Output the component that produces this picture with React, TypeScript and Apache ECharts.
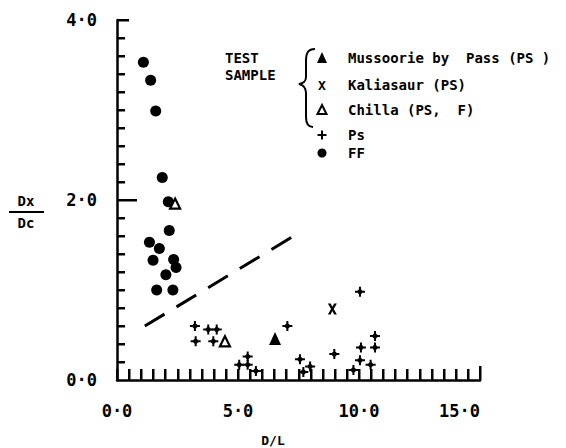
import React, { useEffect, useRef } from "react";
import * as echarts from "echarts";

// ---- data ----
const xTickLabels = ["0·0", "5·0", "10·0", "15·0"];
const yTickLabels = ["0·0", "2·0", "4·0"];

// FF (filled circles)
const ffX = [1.09, 1.39, 1.60, 1.87, 2.12, 2.16, 1.34, 1.75, 1.49, 2.34, 2.44, 2.02, 1.64, 2.31];
const ffY = [3.53, 3.33, 2.99, 2.25, 1.98, 1.66, 1.53, 1.46, 1.33, 1.34, 1.25, 1.17, 1.00, 1.00];

// Ps (plus markers)
const psX = [3.22, 3.25, 3.77, 4.12, 3.98, 7.04, 8.98, 10.08, 10.66, 10.66, 7.56, 7.98, 7.70, 5.40, 5.40, 5.05, 5.74, 10.04, 9.77, 10.48, 10.04];
const psY = [0.60, 0.43, 0.56, 0.56, 0.43, 0.60, 0.29, 0.36, 0.49, 0.36, 0.23, 0.15, 0.09, 0.26, 0.17, 0.17, 0.10, 0.22, 0.11, 0.17, 0.98];

// Test samples
const mussoorieX = [6.53];
const mussoorieY = [0.46];
const kaliasaurX = [8.90];
const kaliasaurY = [0.79];
const chillaX = [2.40, 4.46];
const chillaY = [1.96, 0.43];

// dashed boundary line
const dashX = [1.15, 7.3];
const dashY = [0.6, 1.6];

// axis ranges and tick steps (minor ticks every 0.5 on x, every 0.2 on y)
const X_MIN = 0, X_MAX = 15, X_STEP = 0.5;
const Y_MIN = 0, Y_MAX = 4, Y_STEP = 0.2;

const zip = (xs: number[], ys: number[]) => xs.map((x, i) => [x, ys[i]]);

const MONO = '"DejaVu Sans Mono"';
const PLUS_PATH =
  "path://M4,0 L6,0 L6,2.5 L7.5,4 L10,4 L10,6 L7.5,6 L6,7.5 L6,10 L4,10 L4,7.5 L2.5,6 L0,6 L0,4 L2.5,4 L4,2.5 Z";
const X_PATH =
  "path://M0,0 L3,0 L5,3.6 L7,0 L10,0 L6.5,6 L10,12 L7,12 L5,8.4 L3,12 L0,12 L3.5,6 Z";

const BRACE_D =
  "M17,2 C10,2 8,6 8,14 L8,30 C8,35 5,36 1,37 C5,38 8,40 8,46 L8,70 C8,76 10,80 15,80";

const GRID = { left: 117, right: 86, top: 20, bottom: 68 };
const W = 566, H = 448;

let braceRegistered = false;

export default function App() {
  const ref = useRef<HTMLDivElement>(null);

  useEffect(() => {
    if (!ref.current) return;
    if (!braceRegistered) {
      echarts.graphic.registerShape("brace", echarts.graphic.extendPath(BRACE_D, {}));
      braceRegistered = true;
    }
    const chart = echarts.init(ref.current, null, { renderer: "svg" });

    const legendFont = `bold 14px ${MONO}`;
    const legendRows = [
      { y: 58, text: "Mussoorie by  Pass (PS )" },
      { y: 85, text: "Kaliasaur (PS)" },
      { y: 110, text: "Chilla (PS,  F)" },
      { y: 135, text: "Ps" },
      { y: 153, text: "FF" },
    ];
    const mx = 322;

    const option: any = {
      animation: false,
      grid: { ...GRID, containLabel: false },
      xAxis: {
        type: "value",
        min: X_MIN,
        max: X_MAX,
        interval: 5,
        axisLine: { show: true, onZero: false, lineStyle: { color: "#000", width: 2.5 } },
        axisTick: { show: false },
        axisLabel: {
          formatter: (v: number) => xTickLabels[Math.round(v / 5)],
          margin: 22,
          color: "#000",
          fontFamily: MONO,
          fontWeight: "bold",
          fontSize: 17,
          alignMaxLabel: "right",
        },
        splitLine: { show: false },
      },
      yAxis: {
        type: "value",
        min: Y_MIN,
        max: Y_MAX,
        interval: 2,
        axisLine: { show: true, onZero: false, lineStyle: { color: "#000", width: 2.5 } },
        axisTick: { show: false },
        axisLabel: {
          formatter: (v: number) => yTickLabels[Math.round(v / 2)],
          margin: 20,
          color: "#000",
          fontFamily: MONO,
          fontWeight: "bold",
          fontSize: 17,
        },
        splitLine: { show: false },
      },
      series: [
        {
          type: "line",
          data: zip(dashX, dashY),
          symbol: "none",
          lineStyle: { color: "#000", width: 3, type: [23, 14], cap: "butt" },
          z: 1,
        },
        {
          name: "FF",
          type: "scatter",
          data: zip(ffX, ffY),
          symbol: "circle",
          symbolSize: 11,
          itemStyle: { color: "#000", opacity: 1 },
        },
        {
          name: "Ps",
          type: "scatter",
          data: zip(psX, psY),
          symbol: PLUS_PATH,
          symbolSize: 10,
          itemStyle: { color: "#000", opacity: 1 },
        },
        {
          name: "Mussoorie by Pass (PS)",
          type: "scatter",
          data: zip(mussoorieX, mussoorieY),
          symbol: "triangle",
          symbolSize: [12, 13],
          itemStyle: { color: "#000", opacity: 1 },
        },
        {
          name: "Kaliasaur (PS)",
          type: "scatter",
          data: zip(kaliasaurX, kaliasaurY),
          symbol: X_PATH,
          symbolSize: [9, 11],
          itemStyle: { color: "#000", opacity: 1 },
        },
        {
          name: "Chilla (PS, F)",
          type: "scatter",
          data: zip(chillaX, chillaY),
          symbol: "triangle",
          symbolSize: [10, 10],
          itemStyle: { color: "#fff", borderColor: "#000", borderWidth: 2.2, opacity: 1 },
        },
      ],
    };

    chart.setOption(option);

    // pixel position of a data point, via the chart's scales (fallback: grid geometry)
    const toPx = (x: number, y: number): number[] => {
      let p: any = null;
      try {
        p = chart.convertToPixel({ gridIndex: 0 }, [x, y]);
      } catch (e) {
        p = null;
      }
      if (!p || !isFinite(p[0]) || !isFinite(p[1])) {
        const gw = W - GRID.left - GRID.right;
        const gh = H - GRID.top - GRID.bottom;
        p = [
          GRID.left + ((x - X_MIN) / (X_MAX - X_MIN)) * gw,
          H - GRID.bottom - ((y - Y_MIN) / (Y_MAX - Y_MIN)) * gh,
        ];
      }
      return p;
    };

    const tickEls: any[] = [];
    const nx = Math.round((X_MAX - X_MIN) / X_STEP);
    for (let i = 0; i <= nx; i++) {
      const p = toPx(X_MIN + i * X_STEP, Y_MIN);
      const len = i === nx ? 14 : 11;
      tickEls.push({ type: "rect", z: 100, silent: true, shape: { x: Math.round(p[0]) - 1, y: Math.round(p[1]) - len, width: 2.5, height: len }, style: { fill: "#000" } });
    }
    const ny = Math.round((Y_MAX - Y_MIN) / Y_STEP);
    for (let i = 1; i <= ny; i++) {
      const p = toPx(X_MIN, Y_MIN + i * Y_STEP);
      const len = i === 10 ? 20 : i === ny ? 12 : 8;
      tickEls.push({ type: "rect", z: 100, silent: true, shape: { x: Math.round(p[0]), y: Math.round(p[1]) - 1, width: len, height: 2.5 }, style: { fill: "#000" } });
    }

    chart.setOption({
      graphic: [
        ...tickEls,
        // y-axis name Dx / Dc
        { type: "text", style: { text: "Dx", x: 26, y: 201, font: `bold 14px ${MONO}`, fill: "#000", textAlign: "center", textVerticalAlign: "middle" } },
        { type: "line", shape: { x1: 9, y1: 212, x2: 44, y2: 212 }, style: { stroke: "#000", lineWidth: 2 } },
        { type: "text", style: { text: "Dc", x: 26, y: 223, font: `bold 14px ${MONO}`, fill: "#000", textAlign: "center", textVerticalAlign: "middle" } },
        // x-axis name
        { type: "text", style: { text: "D/L", x: 273, y: 440, font: `bold 13px ${MONO}`, fill: "#000", textAlign: "center", textVerticalAlign: "middle" } },
        // legend block
        { type: "text", style: { text: "TEST", x: 225, y: 58, font: `bold 14px ${MONO}`, fill: "#000", textAlign: "left", textVerticalAlign: "middle" } },
        { type: "text", style: { text: "SAMPLE", x: 225, y: 75, font: `bold 14px ${MONO}`, fill: "#000", textAlign: "left", textVerticalAlign: "middle" } },
        { type: "brace", x: 298, y: 47, style: { stroke: "#000", lineWidth: 2, fill: "none" } },
        // legend markers
        { type: "polygon", shape: { points: [[mx, legendRows[0].y - 6], [mx + 5, legendRows[0].y + 5], [mx - 5, legendRows[0].y + 5]] }, style: { fill: "#000" } },
        { type: "text", style: { text: "X", x: mx, y: legendRows[1].y, font: `bold 13px ${MONO}`, fill: "#000", textAlign: "center", textVerticalAlign: "middle" } },
        { type: "polygon", shape: { points: [[mx, legendRows[2].y - 5], [mx + 4.5, legendRows[2].y + 4], [mx - 4.5, legendRows[2].y + 4]] }, style: { fill: "#fff", stroke: "#000", lineWidth: 2 } },
        { type: "polygon", shape: { points: [[mx - 1, legendRows[3].y - 4.5], [mx + 1, legendRows[3].y - 4.5], [mx + 1, legendRows[3].y - 1], [mx + 4.5, legendRows[3].y - 1], [mx + 4.5, legendRows[3].y + 1], [mx + 1, legendRows[3].y + 1], [mx + 1, legendRows[3].y + 4.5], [mx - 1, legendRows[3].y + 4.5], [mx - 1, legendRows[3].y + 1], [mx - 4.5, legendRows[3].y + 1], [mx - 4.5, legendRows[3].y - 1], [mx - 1, legendRows[3].y - 1]] }, style: { fill: "#000" } },
        { type: "circle", shape: { cx: mx, cy: legendRows[4].y, r: 4.5 }, style: { fill: "#000" } },
        ...legendRows.map((r) => ({
          type: "text",
          style: { text: r.text, x: 348, y: r.y, font: legendFont, fill: "#000", textAlign: "left", textVerticalAlign: "middle" },
        })),
      ],
    });

    return () => chart.dispose();
  }, []);

  return (
    <div
      ref={ref}
      style={{ position: "fixed", left: 0, top: 0, width: 566, height: 448, background: "#fff" }}
    />
  );
}
